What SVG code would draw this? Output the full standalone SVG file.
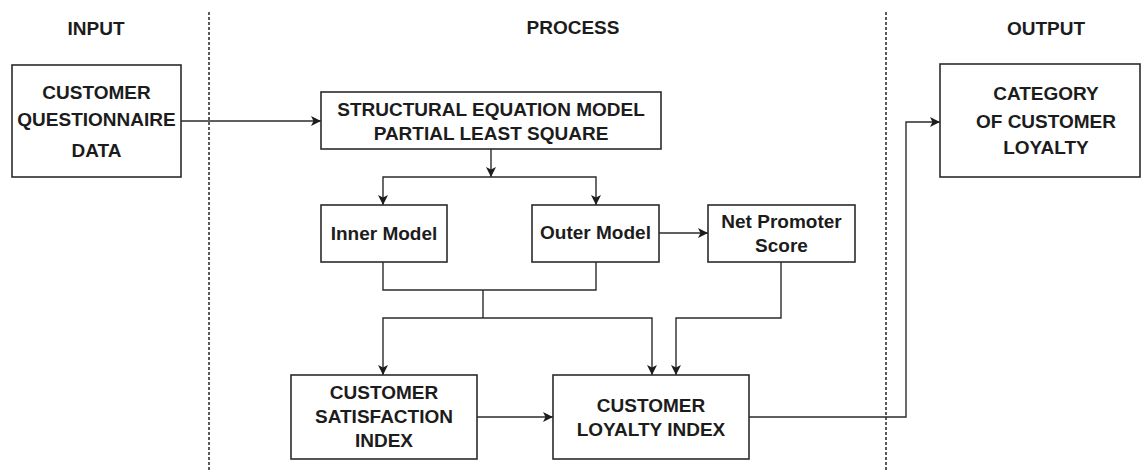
<svg xmlns="http://www.w3.org/2000/svg" width="1143" height="470" viewBox="0 0 1143 470">
  <style>
    .box { fill: #ffffff; stroke: #2b2b2b; stroke-width: 1.6; }
    .lbl { font-family: "Liberation Sans", Arial, sans-serif; font-weight: bold; font-size: 19px; fill: #1c1c1c; text-anchor: middle; }
    .wire { fill: none; stroke: #2b2b2b; stroke-width: 1.4; }
    .arrow { marker-end: url(#head); }
    .divider { stroke: #333333; stroke-width: 1.6; stroke-dasharray: 3 2; }
  </style>
  <defs>
    <marker id="head" viewBox="0 0 10 10" refX="10" refY="5" markerWidth="11" markerHeight="10" markerUnits="userSpaceOnUse" orient="auto">
      <path d="M0,0 L10,5 L0,10 L2.5,5 z" fill="#1c1c1c"/>
    </marker>
  </defs>
  <rect width="1143" height="470" fill="#ffffff"/>

  <!-- column dividers -->
  <g id="dividers">
    <line class="divider" x1="209" y1="12" x2="209" y2="470"/>
    <line class="divider" x1="886" y1="12" x2="886" y2="470"/>
  </g>

  <!-- column headings -->
  <g id="headings">
    <text class="lbl" x="96" y="35">INPUT</text>
    <text class="lbl" x="573" y="34">PROCESS</text>
    <text class="lbl" x="1046" y="35">OUTPUT</text>
  </g>

  <!-- connectors -->
  <g id="connectors">
    <path class="wire arrow" d="M181,121 H321"/>
    <path class="wire arrow" d="M491,149 V177"/>
    <path class="wire arrow" d="M491,177 H383 V205"/>
    <path class="wire arrow" d="M491,177 H596 V205"/>
    <path class="wire arrow" d="M659,233 H708"/>
    <path class="wire" d="M383,262 V290 H596 V262"/>
    <path class="wire" d="M483,290 V318"/>
    <path class="wire arrow" d="M483,318 H383 V375"/>
    <path class="wire arrow" d="M483,318 H652 V375"/>
    <path class="wire arrow" d="M781,262 V318 H676 V375"/>
    <path class="wire arrow" d="M477,417 H553"/>
    <path class="wire arrow" d="M749,417 H906 V122 H940"/>
  </g>

  <g id="questionnaire">
    <rect class="box" x="12" y="65" width="169" height="112"/>
    <text class="lbl" x="96.5" y="99">CUSTOMER</text>
    <text class="lbl" x="96.5" y="126">QUESTIONNAIRE</text>
    <text class="lbl" x="96.5" y="157">DATA</text>
  </g>

  <g id="sem-pls">
    <rect class="box" x="321" y="92" width="340" height="57"/>
    <text class="lbl" x="491" y="116">STRUCTURAL EQUATION MODEL</text>
    <text class="lbl" x="491" y="140">PARTIAL LEAST SQUARE</text>
  </g>

  <g id="inner-model">
    <rect class="box" x="321" y="205" width="126" height="57"/>
    <text class="lbl" x="384" y="240">Inner Model</text>
  </g>

  <g id="outer-model">
    <rect class="box" x="532" y="205" width="127" height="57"/>
    <text class="lbl" x="595.5" y="239">Outer Model</text>
  </g>

  <g id="net-promoter">
    <rect class="box" x="708" y="205" width="147" height="57"/>
    <text class="lbl" x="781.5" y="228">Net Promoter</text>
    <text class="lbl" x="781.5" y="252">Score</text>
  </g>

  <g id="satisfaction-index">
    <rect class="box" x="291" y="375" width="186" height="84"/>
    <text class="lbl" x="384" y="399">CUSTOMER</text>
    <text class="lbl" x="384" y="423">SATISFACTION</text>
    <text class="lbl" x="384" y="447">INDEX</text>
  </g>

  <g id="loyalty-index">
    <rect class="box" x="553" y="375" width="196" height="84"/>
    <text class="lbl" x="651" y="412">CUSTOMER</text>
    <text class="lbl" x="651" y="436">LOYALTY INDEX</text>
  </g>

  <g id="loyalty-category">
    <rect class="box" x="940" y="64" width="200" height="113"/>
    <text class="lbl" x="1046" y="100">CATEGORY</text>
    <text class="lbl" x="1046" y="128">OF CUSTOMER</text>
    <text class="lbl" x="1046" y="154">LOYALTY</text>
  </g>
</svg>
